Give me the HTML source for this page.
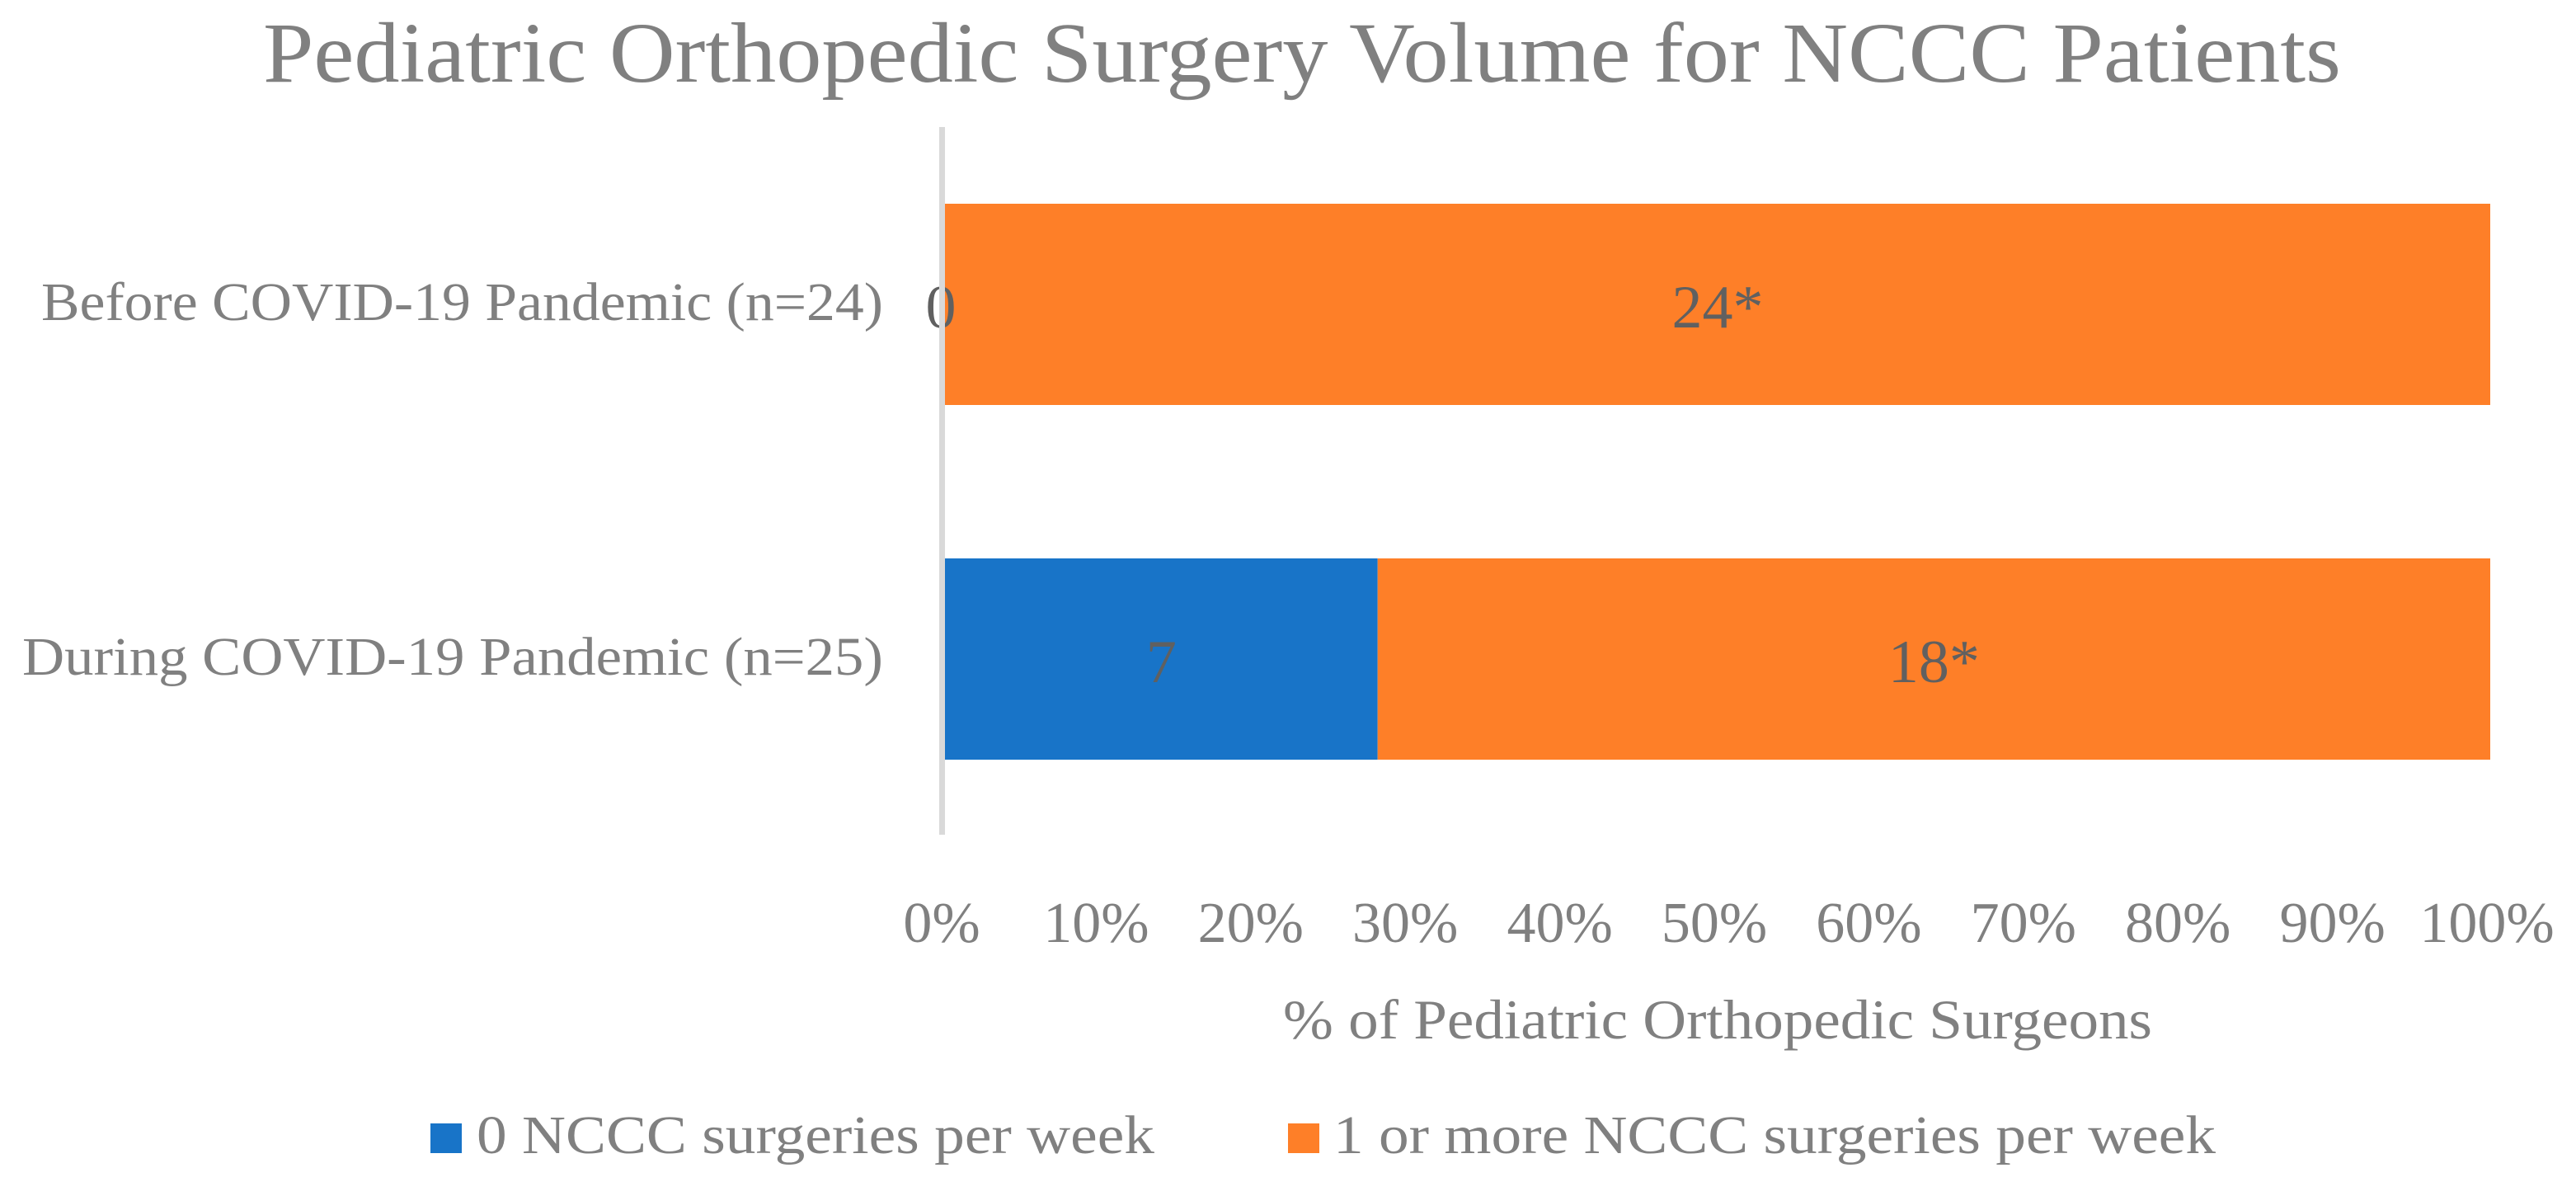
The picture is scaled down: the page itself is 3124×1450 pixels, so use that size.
<!DOCTYPE html>
<html><head><meta charset="utf-8"><style>
html,body{margin:0;padding:0;background:#fff;}
svg{display:block;font-family:"Liberation Serif",serif;}
</style></head><body>
<svg width="3124" height="1450" viewBox="0 0 3124 1450" xmlns="http://www.w3.org/2000/svg" id="chart">
<text x="1579" y="99" font-size="104" fill="#808080" text-anchor="middle" textLength="2520" lengthAdjust="spacingAndGlyphs">Pediatric Orthopedic Surgery Volume for NCCC Patients</text>
<g id="plot"></g>
<text x="2083" y="1259" font-size="68" fill="#808080" text-anchor="middle" textLength="1054" lengthAdjust="spacingAndGlyphs">% of Pediatric Orthopedic Surgeons</text>
<g>
<rect x="522" y="1362" width="38" height="36" fill="#1874C8"/>
<text x="578" y="1398" font-size="66" fill="#808080" textLength="822" lengthAdjust="spacingAndGlyphs">0 NCCC surgeries per week</text>
<rect x="1562" y="1362" width="38" height="36" fill="#FE7F28"/>
<text x="1617" y="1398" font-size="66" fill="#808080" textLength="1070" lengthAdjust="spacingAndGlyphs">1 or more NCCC surgeries per week</text>
</g>
</svg>
<script>
const categories = ["Before COVID-19 Pandemic (n=24)", "During COVID-19 Pandemic (n=25)"];
const zeroSurgeries = [0, 7];
const oneOrMore = [24, 18];
const oneOrMoreLabels = ["24*", "18*"];
const tickLabels = ["0%","10%","20%","30%","40%","50%","60%","70%","80%","90%","100%"];

const NS = "http://www.w3.org/2000/svg";
const plot = document.getElementById("plot");
const X0 = 1146, X1 = 3020;
const xScale = f => X0 + f * (X1 - X0);
const rowTop = [247, 677], barH = 244;
const yBand = i => rowTop[0] + i * (rowTop[1] - rowTop[0]);
const catW = [1021, 1044];

function mk(tag, attrs, txt) {
  const e = document.createElementNS(NS, tag);
  for (const k in attrs) e.setAttribute(k, attrs[k]);
  if (txt !== undefined) e.textContent = txt;
  plot.appendChild(e);
  return e;
}

categories.forEach((c, i) => {
  const total = zeroSurgeries[i] + oneOrMore[i];
  const y = yBand(i);
  const xb = xScale(zeroSurgeries[i] / total);
  const b = mk("rect", {x: X0, y: y, width: xb - X0, height: barH, fill: "#1874C8"});
  
  
  const o = mk("rect", {x: xb, y: y, width: xScale(1) - xb, height: barH, fill: "#FE7F28"});
  
  
  const cl = mk("text", {x: 1071, y: y + 141, "font-size": 66, fill: "#808080", "text-anchor": "end", textLength: catW[i], lengthAdjust: "spacingAndGlyphs"}, c);
  
  
  const l1 = mk("text", {x: (X0 + xb) / 2 - (zeroSurgeries[i] === 0 ? 5 : 0), y: y + 150, "font-size": 74, fill: "#606060", "text-anchor": "middle"}, String(zeroSurgeries[i]));
  
  
  const l2 = mk("text", {x: (xb + xScale(1)) / 2, y: y + 150, "font-size": 74, fill: "#606060", "text-anchor": "middle"}, oneOrMoreLabels[i]);
  
  
});

const ax = mk("rect", {x: 1139, y: 154, width: 7, height: 858, fill: "#D9D9D9"});



tickLabels.forEach((t, i) => {
  const e = mk("text", {x: xScale(i / 10) - 4, y: 1142, "font-size": 70, fill: "#808080", "text-anchor": "middle"}, t);
  
  
});
</script>
</body></html>
